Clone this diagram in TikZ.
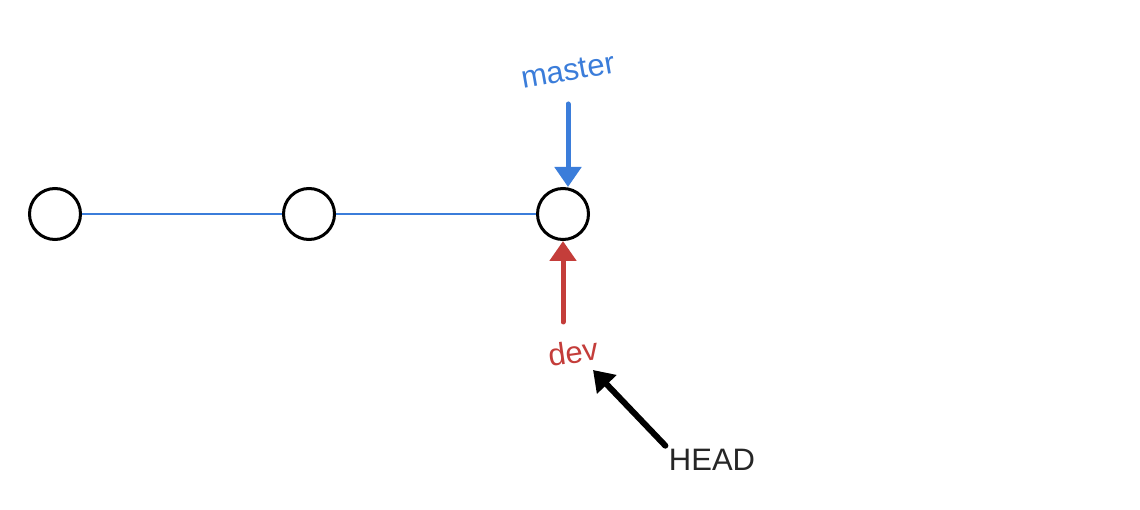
\documentclass[tikz,border=0pt]{standalone}
\usepackage{fontspec}
\setmainfont{Liberation Sans}
\usetikzlibrary{arrows.meta}
\definecolor{masterblue}{HTML}{3B7DDA}
\definecolor{devred}{HTML}{C43D3A}

\tikzset{
  commit/.style={circle, draw=black, line width=3pt, minimum size=51pt, inner sep=0pt},
  branch/.style={font=\fontsize{31}{31}\selectfont, inner sep=2pt},
  ptr/.style={line width=5pt, line cap=round, -{Triangle[length=20pt, width=26pt]}},
  link/.style={masterblue, line width=2pt}
}

\begin{document}
\begin{tikzpicture}[x=1pt, y=-1pt]
  \useasboundingbox[fill=white] (0,0) rectangle (1140,510);
  \node[commit] (c1) at (55,214) {};
  \node[commit] (c2) at (309,214) {};
  \node[commit] (c3) at (563,214) {};
  \draw[link] (c1) -- (c2);
  \draw[link] (c2) -- (c3);

  \node[branch, text=masterblue, rotate=10] (master) at (568,71) {master};
  \node[branch, text=devred, rotate=8] (dev) at (573,352) {dev};
  \node[branch, text=black!85] (head) at (712,460) {HEAD};
  \coordinate (headtip) at (593,370);

  \draw[ptr, masterblue, shorten <=33pt] (master.center) -- (master.center |- c3.north);
  \draw[ptr, devred, shorten <=30pt] (c3.south |- dev.center) -- (c3.south);
  \draw[ptr, black, line width=6pt, shorten <=2pt] (head.north west) -- (headtip);
\end{tikzpicture}
\end{document}
